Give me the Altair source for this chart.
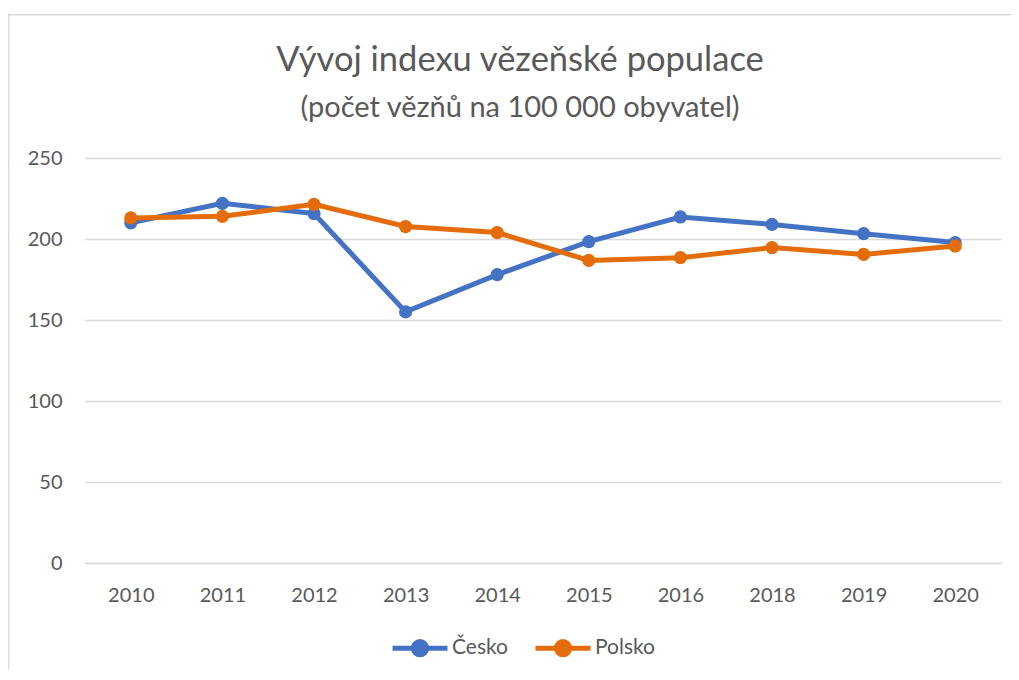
import altair as alt
import pandas as pd

years = ["2010", "2011", "2012", "2013", "2014", "2015", "2016", "2018", "2019", "2020"]
cesko = [210, 222, 215.7, 155, 178, 198.4, 213.6, 209, 203.3, 197.8]
polsko = [213, 214, 221.4, 207.7, 204, 186.8, 188.5, 194.7, 190.5, 195.7]
series_names = ["Česko", "Polsko"]
series_colors = ["#4472C4", "#E46C0A"]
title_text = "Vývoj indexu vězeňské populace"
subtitle_text = "(počet vězňů na 100 000 obyvatel)"
y_ticks = [0, 50, 100, 150, 200, 250]

rows = []
for name, vals in zip(series_names, [cesko, polsko]):
    for yr, v in zip(years, vals):
        rows.append({"rok": yr, "hodnota": v, "zeme": name})
df = pd.DataFrame(rows)

FONT = "Lato"
TXT = "#595959"
GRID = "#D9D9D9"

legend_path = ("M-1,0 L1,0 M-0.24,0 A0.24,0.24 0 1,0 0.24,0 "
               "A0.24,0.24 0 1,0 -0.24,0 Z")

color = alt.Color(
    "zeme:N",
    scale=alt.Scale(domain=series_names, range=series_colors),
    legend=alt.Legend(
        title=None,
        orient="none",
        direction="horizontal",
        legendX=305,
        legendY=460,
        symbolType=legend_path,
        symbolSize=3025,
        symbolStrokeWidth=5,
        labelFontSize=21,
        labelFont=FONT,
        labelColor=TXT,
        labelOffset=2,
        columnPadding=17,
    ),
)

x = alt.X(
    "rok:N",
    sort=years,
    scale=alt.Scale(type="point", padding=0.5),
    axis=alt.Axis(
        title=None,
        labelAngle=0,
        labelFontSize=20,
        labelFont=FONT,
        labelColor=TXT,
        ticks=False,
        domain=True,
        domainColor=GRID,
        domainWidth=1.5,
        grid=False,
        labelPadding=22,
    ),
)
y = alt.Y(
    "hodnota:Q",
    scale=alt.Scale(domain=[0, 250], nice=False, zero=True),
    axis=alt.Axis(
        title=None,
        values=y_ticks,
        labelFontSize=20,
        labelFont=FONT,
        labelColor=TXT,
        ticks=False,
        domain=False,
        grid=True,
        gridColor=GRID,
        gridWidth=1.5,
        labelPadding=23,
    ),
)

base = alt.Chart(df)
layers = []
for name in series_names:
    layers.append(
        base.transform_filter(alt.datum.zeme == name)
        .mark_line(strokeWidth=5, point=alt.OverlayMarkDef(filled=True, size=175, opacity=1))
        .encode(x=x, y=y, color=color)
    )

one = pd.DataFrame({"t": [title_text], "s": [subtitle_text]})
title_mark = alt.Chart(one).mark_text(
    font=FONT, fontSize=34.5, color=TXT, align="center", baseline="alphabetic"
).encode(text="t:N", x=alt.value(435), y=alt.value(-87))
subtitle_mark = alt.Chart(one).mark_text(
    font=FONT, fontSize=29, color=TXT, align="center", baseline="alphabetic"
).encode(text="s:N", x=alt.value(435), y=alt.value(-41))
border_left = alt.Chart(one).mark_rule(color=GRID, strokeWidth=1.5).encode(
    x=alt.value(-76.5), y=alt.value(-144), y2=alt.value(515)
)
border_top = alt.Chart(one).mark_rule(color=GRID, strokeWidth=1.5).encode(
    x=alt.value(-77), x2=alt.value(930), y=alt.value(-143.3)
)

chart = alt.layer(border_left, border_top, title_mark, subtitle_mark, *layers).properties(
    width=916,
    height=405,
    padding={"left": 77, "top": 150, "right": 10, "bottom": 106},
    autosize=alt.AutoSizeParams(type="none"),
    background="white",
).configure_view(stroke=None)

chart.save("out.html", embed_options={"renderer": "svg", "actions": False})
